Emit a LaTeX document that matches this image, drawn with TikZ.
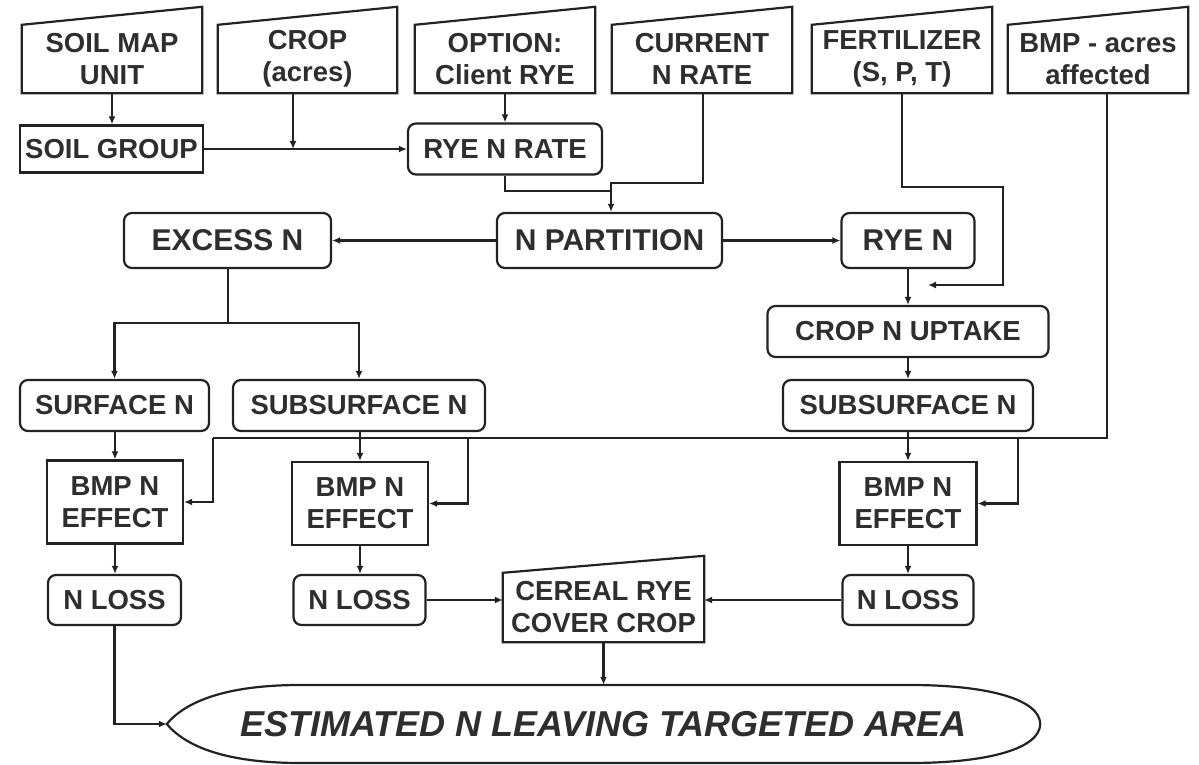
\documentclass[tikz,border=0pt]{standalone}
\usepackage{fontspec}
\setmainfont{Liberation Sans}
\usetikzlibrary{arrows.meta,calc}
\definecolor{ink}{HTML}{2E2E2E}
\definecolor{edge}{HTML}{222222}
\tikzset{
  base/.style={inner sep=0pt, text=ink, font=\fontsize{27.5}{32}\selectfont\bfseries, align=center},
  rbox/.style={base, draw=edge, line width=2.2pt, rounded corners=8pt},
  sbox/.style={base, draw=edge, line width=2.2pt},
  inbox/.style={base},
  big/.style={font=\fontsize{30}{34}\selectfont\bfseries},
  conn/.style={draw=edge, line width=2.4pt},
  arr/.style={conn, -{Latex[length=8pt,width=7pt]}},
}
\newcommand\drawinput[2]{\draw[conn, line width=2.2pt, line join=miter] (#1.south west) -- (#1.south east) -- ($(#1.north east)+(0,-#2)$) -- (#1.north west) -- cycle;}
\begin{document}
\begin{tikzpicture}[x=1pt,y=-1pt]
\useasboundingbox (0,0) rectangle (1199,765);
% input (manual input) shapes
\node[inbox, minimum width=180pt, minimum height=68pt] (soilmap) at (112,59) {SOIL MAP\\UNIT};
\node[inbox, minimum width=179pt, minimum height=68pt] (crop) at (307.5,59) {CROP\\(acres)};
\node[inbox, minimum width=180pt, minimum height=68pt] (option) at (505,59) {OPTION:\\Client RYE};
\node[inbox, minimum width=180pt, minimum height=68pt] (current) at (702,59) {CURRENT\\N RATE};
\node[inbox, minimum width=180pt, minimum height=68pt] (fert) at (902,59) {FERTILIZER\\(S, P, T)};
\node[inbox, minimum width=180pt, minimum height=68pt] (bmpin) at (1098,59) {BMP - acres\\affected};
\foreach \n in {soilmap,crop,option,current,fert,bmpin} {\drawinput{\n}{18}}
% second row
\node[sbox, minimum width=183pt, minimum height=47pt] (soilgroup) at (111.5,149) {SOIL GROUP};
\node[rbox, minimum width=194pt, minimum height=51pt] (ryerate) at (505,149) {RYE N RATE};
% third row
\node[rbox, big, minimum width=225pt, minimum height=55pt] (npart) at (609.5,240.5) {N PARTITION};
\node[rbox, big, minimum width=207pt, minimum height=55pt] (excess) at (227.5,240.5) {EXCESS N};
\node[rbox, big, minimum width=133pt, minimum height=55pt] (ryen) at (908,240.5) {RYE N};
% right column
\node[rbox, minimum width=281pt, minimum height=51pt] (uptake) at (908,331.5) {CROP N UPTAKE};
\node[rbox, minimum width=250pt, minimum height=51pt] (subs2) at (908,405.5) {SUBSURFACE N};
\node[sbox, minimum width=137pt, minimum height=83pt] (bmp3) at (908,503.5) {BMP N\\EFFECT};
\node[rbox, minimum width=131pt, minimum height=50pt] (loss3) at (908,600) {N LOSS};
% left columns
\node[rbox, minimum width=189pt, minimum height=51pt] (surf) at (114.5,405.5) {SURFACE N};
\node[rbox, minimum width=252pt, minimum height=51pt] (subs1) at (359,405.5) {SUBSURFACE N};
\node[sbox, minimum width=136pt, minimum height=83pt] (bmp1) at (115,502) {BMP N\\EFFECT};
\node[sbox, minimum width=136pt, minimum height=83pt] (bmp2) at (360,503.5) {BMP N\\EFFECT};
\node[rbox, minimum width=133pt, minimum height=50pt] (loss1) at (114.5,600) {N LOSS};
\node[rbox, minimum width=132pt, minimum height=50pt] (loss2) at (359.5,600) {N LOSS};
% cereal rye
\node[inbox, minimum width=201pt, minimum height=69pt] (cereal) at (603.5,607.5) {CEREAL RYE\\COVER CROP};
\drawinput{cereal}{17}
% final terminal
\node[inbox, font=\fontsize{36}{40}\selectfont\bfseries\itshape, minimum width=873pt, minimum height=78pt] (est) at (603.5,724) {ESTIMATED N LEAVING TARGETED AREA};
\draw[conn, line width=2.2pt] (est.west) .. controls (185,702) and (225,685) .. (300,685) -- (910,685)
  .. controls (990,685) and (1040,700) .. (est.east)
  .. controls (1040,748) and (990,763) .. (910,763) -- (300,763)
  .. controls (225,763) and (185,746) .. (est.west) -- cycle;
% junction coordinates
\coordinate (cropj) at (293,149);
\coordinate (j1) at (611,191);
\coordinate (j2) at (611,183);
\coordinate (split) at (228,323);
\coordinate (fc) at (1003,187);
\coordinate (fertend) at (928,285);
\coordinate (bmpx) at (1107,438);
\coordinate (bl) at (213,438);
\coordinate (b2) at (468,438);
\coordinate (b3) at (1018,438);
% connectors
\draw[arr] (soilmap.south) -- (soilmap.south |- soilgroup.north);
\draw[arr] (crop.south -| cropj) -- (cropj);
\draw[arr] (soilgroup.east) -- (ryerate.west);
\draw[arr] (option.south) -- (ryerate.north);
\draw[conn] (ryerate.south) |- (j1);
\draw[arr] (current.south -| 703,0) |- (j2) -- (j2 |- npart.north);
\draw[arr] (npart.west) -- (excess.east);
\draw[arr] (npart.east) -- (ryen.west);
\draw[conn] (excess.south -| split) -- (split);
\draw[arr] (split) -| (surf.north);
\draw[arr] (split) -| (subs1.north);
\draw[arr] (fert.south) |- (fc) |- (fertend);
\draw[arr] (ryen.south) -- (uptake.north);
\draw[arr] (uptake.south) -- (subs2.north);
\draw[conn] (bmpin.south -| bmpx) -- (bmpx) -- (bl);
\draw[arr] (bl) |- (bmp1.east);
\draw[arr] (b2) |- (bmp2.east);
\draw[arr] (b3) |- (bmp3.east);
\draw[arr] (surf.south -| bmp1.north) -- (bmp1.north);
\draw[arr] (subs1.south -| bmp2.north) -- (bmp2.north);
\draw[arr] (subs2.south) -- (bmp3.north);
\draw[arr] (bmp1.south) -- (bmp1.south |- loss1.north);
\draw[arr] (bmp2.south) -- (bmp2.south |- loss2.north);
\draw[arr] (bmp3.south) -- (loss3.north);
\draw[arr] (loss2.east) -- (loss2.east -| cereal.west);
\draw[arr] (loss3.west) -- (loss3.west -| cereal.east);
\draw[arr] (cereal.south) -- (cereal.south |- est.north);
\draw[arr] (loss1.south) |- (est.west);
\end{tikzpicture}
\end{document}
